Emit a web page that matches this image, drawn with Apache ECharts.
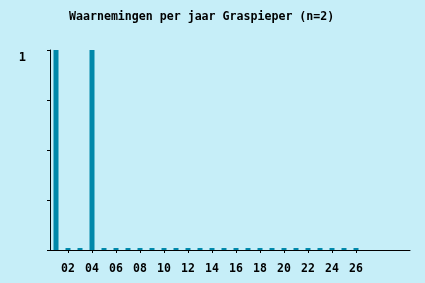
<!DOCTYPE html>
<html>
<head>
<meta charset="utf-8">
<script src="https://cdn.jsdelivr.net/npm/echarts@6/dist/echarts.min.js"></script>
<style>
html,body{margin:0;padding:0;background:#c6eef8;}
#c{width:425px;height:283px;}
</style>
</head>
<body>
<div id="c"></div>
<script>
const titleText = 'Waarnemingen per jaar Graspieper (n=2)';
const years = ['01','02','03','04','05','06','07','08','09','10','11','12','13','14','15','16','17','18','19','20','21','22','23','24','25','26','','','',''];
const counts = [1,0,0,1,0,0,0,0,0,0,0,0,0,0,0,0,0,0,0,0,0,0,0,0,0,0];
const yTickLabels = {1: '1'};

const font = 'DejaVu Sans Mono';
const showEven = (i, v) => i % 2 === 1 && v !== '';
const chart = echarts.init(document.getElementById('c'), null, {renderer: 'canvas'});
chart.setOption({
  backgroundColor: '#c6eef8',
  animation: false,
  title: {
    text: titleText,
    left: 64, top: 6,
    textStyle: {fontFamily: font, fontWeight: 'bold', fontSize: 11.6, color: '#000'}
  },
  grid: {left: 50, right: 15, top: 50, bottom: 33, containLabel: false},
  xAxis: {
    type: 'category',
    data: years,
    boundaryGap: true,
    axisLine: {lineStyle: {color: '#000', width: 1}},
    axisTick: {show: true, alignWithLabel: true, length: 3, interval: showEven, lineStyle: {color: '#000'}},
    axisLabel: {interval: showEven, margin: 13, fontFamily: font, fontWeight: 'bold', fontSize: 11.5, color: '#000'},
    splitLine: {show: false}
  },
  yAxis: {
    type: 'value',
    min: 0, max: 1, interval: 0.25,
    axisLine: {show: true, lineStyle: {color: '#000', width: 1}},
    axisTick: {show: true, length: 3, lineStyle: {color: '#000'}},
    axisLabel: {
      formatter: v => yTickLabels[v] || '',
      margin: 24, verticalAlign: 'top', padding: [2, 0, 0, 0],
      fontFamily: font, fontWeight: 'bold', fontSize: 12, color: '#000'
    },
    splitLine: {show: false}
  },
  series: [{
    type: 'bar',
    data: counts,
    barWidth: 5,
    barMinHeight: 2,
    itemStyle: {color: '#0088aa'}
  }]
});
</script>
</body>
</html>
